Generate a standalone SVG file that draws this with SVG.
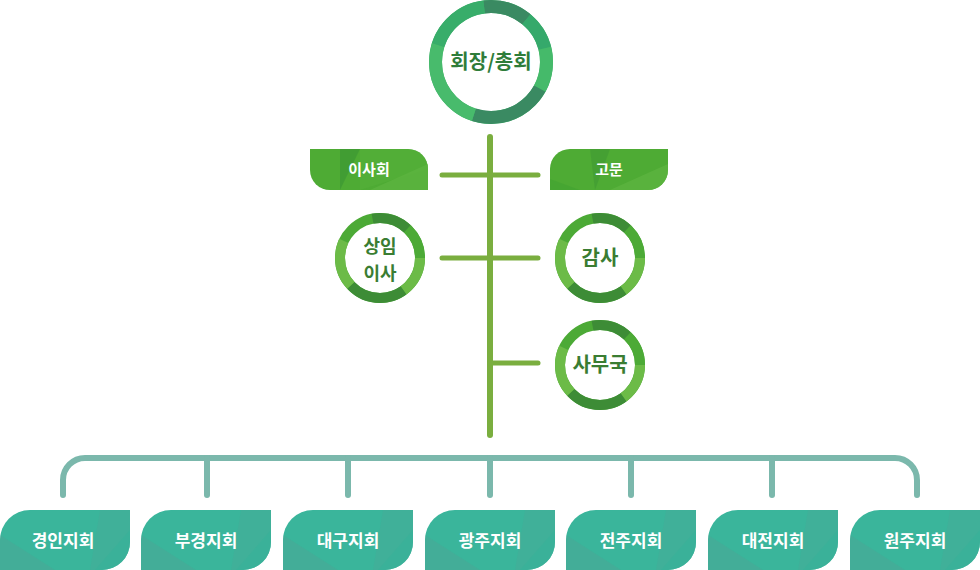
<svg xmlns="http://www.w3.org/2000/svg" xmlns:xlink="http://www.w3.org/1999/xlink" width="980" height="570" viewBox="0 0 980 570">
<style>
.trunk{stroke:#7aae3f;stroke-width:6;stroke-linecap:round;fill:none}
.branch{stroke:#7aae3f;stroke-width:5;stroke-linecap:round;fill:none}
.teal{stroke:#7bb8ac;stroke-width:6;stroke-linecap:round;fill:none}
.t-big{font-family:"Noto Sans CJK KR","Noto Sans",sans-serif;font-weight:700;font-size:20px;fill:#2f7d3a;text-anchor:middle}
.t-mid{font-family:"Noto Sans CJK KR","Noto Sans",sans-serif;font-weight:700;font-size:20px;fill:#3a7d32;text-anchor:middle}
.t-two{font-family:"Noto Sans CJK KR","Noto Sans",sans-serif;font-weight:700;font-size:18px;fill:#3a7d32;text-anchor:middle}
.t-box{font-family:"Noto Sans CJK KR","Noto Sans",sans-serif;font-weight:700;font-size:15px;fill:#ffffff;text-anchor:middle}
.t-br{font-family:"Noto Sans CJK KR","Noto Sans",sans-serif;font-weight:700;font-size:17px;fill:#ffffff;text-anchor:middle}
.seg{fill:none}
</style>
<defs>
<clipPath id="brClip"><path d="M30,0 H130 V32 A28,28 0 0 1 102,60 H0 V30 A30,30 0 0 1 30,0 Z"/></clipPath>
<g id="branchBox">
<path d="M30,0 H130 V32 A28,28 0 0 1 102,60 H0 V30 A30,30 0 0 1 30,0 Z" fill="#3ab59b"/>
<g clip-path="url(#brClip)">
<polygon points="0,25 55,60 0,60" fill="#4aa896" opacity="0.6"/>
<polygon points="100,0 130,0 130,60 90,60" fill="#45ab98" opacity="0.5"/>
<polygon points="130,20 130,60 95,60" fill="#37b29a" opacity="0.6"/>
</g>
</g>
<clipPath id="lClip"><path d="M0,0 H98 A20,20 0 0 1 118,20 V41 H20 A20,20 0 0 1 0,21 Z"/></clipPath>
<clipPath id="rClip"><path d="M20,0 H118 V21 A20,20 0 0 1 98,41 H0 V20 A20,20 0 0 1 20,0 Z"/></clipPath>
</defs>

<g id="connectors">
<line class="trunk" x1="490" y1="137" x2="490" y2="435"/>
<line class="branch" x1="442" y1="175" x2="538" y2="175"/>
<line class="branch" x1="442" y1="258" x2="538" y2="258"/>
<line class="branch" x1="490" y1="363" x2="538" y2="363"/>
<path class="teal" d="M63,495 V480 A22,22 0 0 1 85,458 H895 A22,22 0 0 1 917,480 V495"/>
<line class="teal" x1="207" y1="458" x2="207" y2="495"/>
<line class="teal" x1="348" y1="458" x2="348" y2="495"/>
<line class="teal" x1="490" y1="458" x2="490" y2="495"/>
<line class="teal" x1="631" y1="458" x2="631" y2="495"/>
<line class="teal" x1="772" y1="458" x2="772" y2="495"/>
</g>

<g id="president">
<g transform="rotate(-90 491 62)">
<circle class="seg" cx="491" cy="62" r="55.5" stroke="#3cb06a" stroke-width="13"/>
<circle class="seg" cx="491" cy="62" r="55.5" stroke="#3a8a62" stroke-width="13" pathLength="100" stroke-dasharray="13 87" stroke-dashoffset="2"/>
<circle class="seg" cx="491" cy="62" r="55.5" stroke="#35a96b" stroke-width="13" pathLength="100" stroke-dasharray="10 90" stroke-dashoffset="-11"/>
<circle class="seg" cx="491" cy="62" r="55.5" stroke="#45ba6a" stroke-width="13" pathLength="100" stroke-dasharray="12 88" stroke-dashoffset="-21"/>
<circle class="seg" cx="491" cy="62" r="55.5" stroke="#3a8a62" stroke-width="13" pathLength="100" stroke-dasharray="22 78" stroke-dashoffset="-33"/>
<circle class="seg" cx="491" cy="62" r="55.5" stroke="#48bb6c" stroke-width="13" pathLength="100" stroke-dasharray="25 75" stroke-dashoffset="-55"/>
<circle class="seg" cx="491" cy="62" r="55.5" stroke="#38ad6a" stroke-width="13" pathLength="100" stroke-dasharray="18 82" stroke-dashoffset="-80"/>
</g>
<text class="t-big" x="491" y="69">회장/총회</text>
</g>

<g id="board">
<g transform="translate(310,149)">
<path d="M0,0 H98 A20,20 0 0 1 118,20 V41 H20 A20,20 0 0 1 0,21 Z" fill="#4eab34"/>
<g clip-path="url(#lClip)">
<polygon points="30,0 50,0 30,41" fill="#3f9a33" opacity="0.8"/>
<polygon points="50,0 118,0 118,20 50,41" fill="#55b13a" opacity="0.5"/>
<polygon points="118,15 118,41 60,41" fill="#5db440" opacity="0.8"/>
</g>
<text class="t-box" x="59" y="26">이사회</text>
</g>
</g>

<g id="advisor">
<g transform="translate(550,149)">
<path d="M20,0 H118 V21 A20,20 0 0 1 98,41 H0 V20 A20,20 0 0 1 20,0 Z" fill="#4eab34"/>
<g clip-path="url(#rClip)">
<polygon points="40,0 60,0 45,41" fill="#3f9a33" opacity="0.6"/>
<polygon points="118,15 118,41 60,41" fill="#5db440" opacity="0.8"/>
<polygon points="0,30 30,41 0,41" fill="#45a532" opacity="0.8"/>
</g>
<text class="t-box" x="59" y="26">고문</text>
</g>
</g>

<g id="standing">
<g transform="rotate(-90 380 258)">
<circle class="seg" cx="380" cy="258" r="40" stroke="#4caa36" stroke-width="10"/>
<circle class="seg" cx="380" cy="258" r="40" stroke="#3d8c36" stroke-width="10" pathLength="100" stroke-dasharray="15 85" stroke-dashoffset="3"/>
<circle class="seg" cx="380" cy="258" r="40" stroke="#4caa36" stroke-width="10" pathLength="100" stroke-dasharray="13 87" stroke-dashoffset="-12"/>
<circle class="seg" cx="380" cy="258" r="40" stroke="#6cbb47" stroke-width="10" pathLength="100" stroke-dasharray="15 85" stroke-dashoffset="-25"/>
<circle class="seg" cx="380" cy="258" r="40" stroke="#3d8c36" stroke-width="10" pathLength="100" stroke-dasharray="23 77" stroke-dashoffset="-40"/>
<circle class="seg" cx="380" cy="258" r="40" stroke="#6cbb47" stroke-width="10" pathLength="100" stroke-dasharray="19 81" stroke-dashoffset="-63"/>
</g>
<text class="t-two" x="380" y="253">상임</text>
<text class="t-two" x="380" y="279.5">이사</text>
</g>

<g id="audit">
<g transform="rotate(-90 600 258)">
<circle class="seg" cx="600" cy="258" r="40" stroke="#4caa36" stroke-width="10"/>
<circle class="seg" cx="600" cy="258" r="40" stroke="#3d8c36" stroke-width="10" pathLength="100" stroke-dasharray="15 85" stroke-dashoffset="3"/>
<circle class="seg" cx="600" cy="258" r="40" stroke="#4caa36" stroke-width="10" pathLength="100" stroke-dasharray="13 87" stroke-dashoffset="-12"/>
<circle class="seg" cx="600" cy="258" r="40" stroke="#6cbb47" stroke-width="10" pathLength="100" stroke-dasharray="15 85" stroke-dashoffset="-25"/>
<circle class="seg" cx="600" cy="258" r="40" stroke="#3d8c36" stroke-width="10" pathLength="100" stroke-dasharray="23 77" stroke-dashoffset="-40"/>
<circle class="seg" cx="600" cy="258" r="40" stroke="#6cbb47" stroke-width="10" pathLength="100" stroke-dasharray="19 81" stroke-dashoffset="-63"/>
</g>
<text class="t-mid" x="600" y="265">감사</text>
</g>

<g id="secretariat">
<g transform="rotate(-90 600 365)">
<circle class="seg" cx="600" cy="365" r="40" stroke="#4caa36" stroke-width="10"/>
<circle class="seg" cx="600" cy="365" r="40" stroke="#3d8c36" stroke-width="10" pathLength="100" stroke-dasharray="15 85" stroke-dashoffset="3"/>
<circle class="seg" cx="600" cy="365" r="40" stroke="#4caa36" stroke-width="10" pathLength="100" stroke-dasharray="13 87" stroke-dashoffset="-12"/>
<circle class="seg" cx="600" cy="365" r="40" stroke="#6cbb47" stroke-width="10" pathLength="100" stroke-dasharray="15 85" stroke-dashoffset="-25"/>
<circle class="seg" cx="600" cy="365" r="40" stroke="#3d8c36" stroke-width="10" pathLength="100" stroke-dasharray="23 77" stroke-dashoffset="-40"/>
<circle class="seg" cx="600" cy="365" r="40" stroke="#6cbb47" stroke-width="10" pathLength="100" stroke-dasharray="19 81" stroke-dashoffset="-63"/>
</g>
<text class="t-mid" x="600" y="372">사무국</text>
</g>

<g id="br1"><use href="#branchBox" xlink:href="#branchBox" x="0" y="510"/><text class="t-br" x="63" y="547">경인지회</text></g>
<g id="br2"><use href="#branchBox" xlink:href="#branchBox" x="141" y="510"/><text class="t-br" x="206" y="547">부경지회</text></g>
<g id="br3"><use href="#branchBox" xlink:href="#branchBox" x="283" y="510"/><text class="t-br" x="348" y="547">대구지회</text></g>
<g id="br4"><use href="#branchBox" xlink:href="#branchBox" x="425" y="510"/><text class="t-br" x="490" y="547">광주지회</text></g>
<g id="br5"><use href="#branchBox" xlink:href="#branchBox" x="566" y="510"/><text class="t-br" x="631" y="547">전주지회</text></g>
<g id="br6"><use href="#branchBox" xlink:href="#branchBox" x="708" y="510"/><text class="t-br" x="773" y="547">대전지회</text></g>
<g id="br7"><use href="#branchBox" xlink:href="#branchBox" x="850" y="510"/><text class="t-br" x="915" y="547">원주지회</text></g>
</svg>
